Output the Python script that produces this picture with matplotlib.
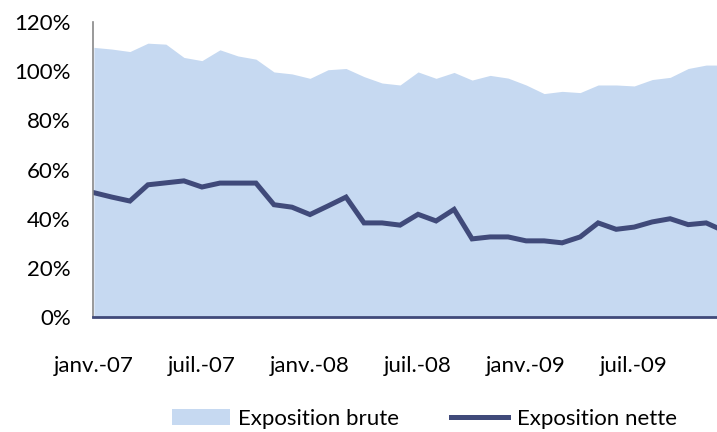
import numpy as np
import matplotlib
matplotlib.use('Agg')
import matplotlib.pyplot as plt
from matplotlib.ticker import PercentFormatter
from matplotlib.patches import Patch
from matplotlib.lines import Line2D

plt.rcParams['font.family'] = ['Lato', 'DejaVu Sans']

# monthly, janv.-07 .. déc.-09 (values in %)
brute = [109.7, 109.0, 108.0, 111.4, 111.0, 105.6, 104.3, 108.7, 106.2, 104.9,
         99.7, 98.9, 97.1, 100.6, 101.1, 97.8, 95.2, 94.4, 99.7, 97.1,
         99.5, 96.4, 98.3, 97.2, 94.4, 90.9, 91.8, 91.3, 94.4, 94.4,
         94.0, 96.6, 97.5, 101.1, 102.5, 102.5]
nette = [50.6, 48.8, 47.2, 53.8, 54.6, 55.4, 52.9, 54.5, 54.5, 54.5,
         45.7, 44.7, 41.7, 45.2, 48.8, 38.3, 38.3, 37.4, 41.8, 39.1,
         43.8, 31.8, 32.6, 32.6, 31.0, 31.0, 30.2, 32.6, 38.3, 35.7,
         36.6, 38.7, 40.0, 37.6, 38.3, 35.0]
tick_pos = [0, 6, 12, 18, 24, 30]
tick_labels = ['janv.-07', 'juil.-07', 'janv.-08', 'juil.-08', 'janv.-09', 'juil.-09']

FILL = '#C6D9F1'
NAVY = '#404A7A'
FS = 16

x = np.arange(len(brute))

fig = plt.figure(figsize=(7.17, 4.32), dpi=100)
ax = fig.add_axes([0.1297, 0.266, 0.8703, 0.683])

ax.fill_between(x, 0, brute, color=FILL, linewidth=0)
ax.plot(x, nette, color=NAVY, linewidth=3.6, solid_joinstyle='miter')

ax.set_xlim(-0.05, 34.6)
ax.set_ylim(0, 120)
ax.set_yticks(np.arange(0, 121, 20))
ax.yaxis.set_major_formatter(PercentFormatter(decimals=0))
ax.set_xticks(tick_pos)
ax.set_xticklabels(tick_labels)
ax.tick_params(axis='both', length=0, labelsize=FS, colors='black')
ax.tick_params(axis='x', pad=28)
ax.tick_params(axis='y', pad=16)

for s in ['top', 'right']:
    ax.spines[s].set_visible(False)
ax.spines['left'].set_color('#888888')
ax.spines['left'].set_linewidth(1.2)
ax.spines['bottom'].set_color(NAVY)
ax.spines['bottom'].set_linewidth(2)

handles = [Patch(facecolor=FILL, edgecolor='none', label='Exposition brute'),
           Line2D([0], [0], color=NAVY, linewidth=3.6, label='Exposition nette')]
fig.legend(handles=handles, loc='center', bbox_to_anchor=(0.592, 0.03), ncol=2,
           frameon=False, fontsize=FS, handlelength=2.6, handleheight=0.7,
           columnspacing=2.3, handletextpad=0.4, borderpad=0)

fig.savefig('out.png', dpi=100)
